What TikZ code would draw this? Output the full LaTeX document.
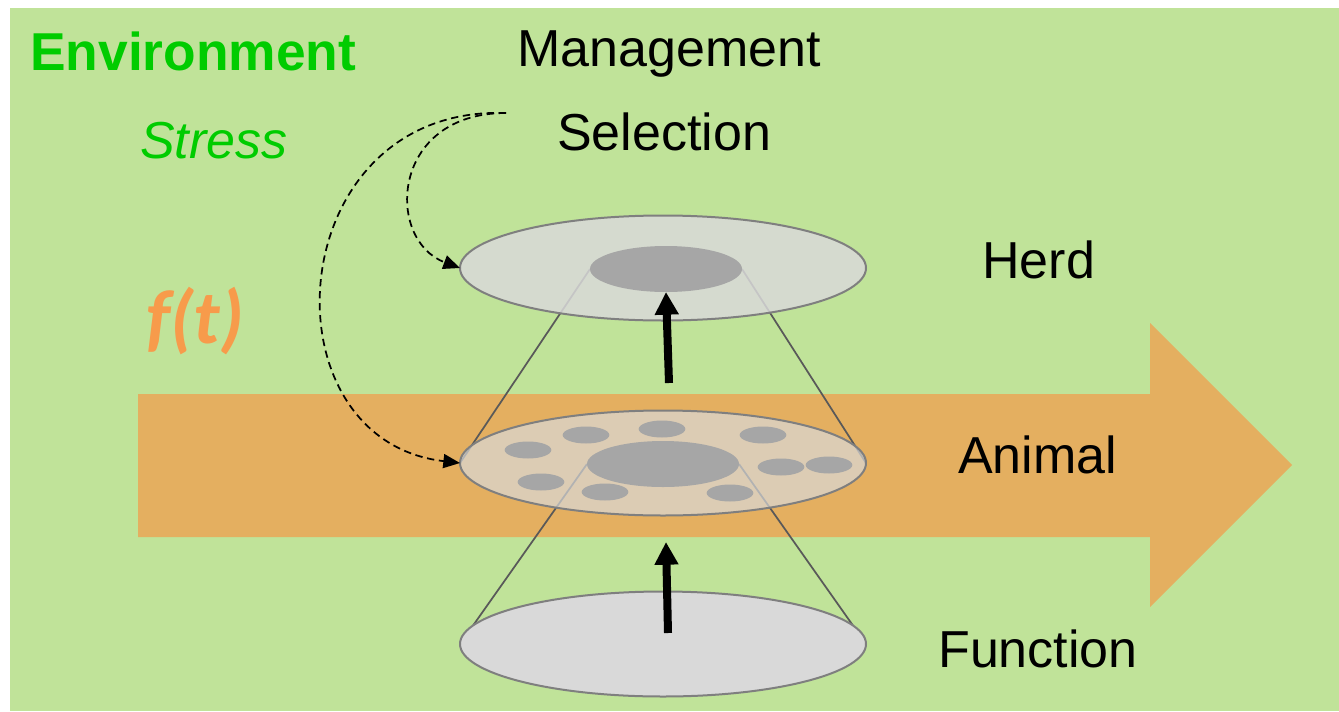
\documentclass[tikz,border=0pt]{standalone}
\usepackage{fontspec}
\setmainfont{Liberation Sans}
\newfontfamily\calfont{Carlito}
\usetikzlibrary{shapes.geometric, arrows.meta}
\definecolor{bggreen}{HTML}{C0E399}
\definecolor{flowor}{HTML}{E4AF60}
\definecolor{envgreen}{HTML}{00CC00}
\definecolor{ftorange}{HTML}{F79B4B}
\definecolor{disk}{HTML}{D9D9D9}
\definecolor{core}{HTML}{A6A6A6}
\definecolor{rim}{HTML}{7F7F7F}
\definecolor{cone}{HTML}{595959}
\tikzstyle{level} = [ellipse,
minimum width=304.5pt, minimum height=78.75pt,
inner sep=0pt, outer sep=0pt,
draw=rim, line width=1.5pt, fill=disk]
\tikzstyle{kernel} = [ellipse,
minimum width=114pt, minimum height=34.5pt,
inner sep=0pt, outer sep=0pt,
fill=core]
\tikzstyle{cell} = [ellipse,
minimum width=35pt, minimum height=12.75pt,
inner sep=0pt, fill=core]
\tikzstyle{caption} = [anchor=base west, inner sep=0pt,
font=\fontsize{39}{47}\selectfont]
\tikzstyle{coneline} = [draw=cone, line width=1.3pt]
\tikzstyle{uparrow} = [line width=6pt, -{Triangle[width=17pt, length=17pt]}]
\tikzstyle{influence} = [line width=1.3pt, dash pattern=on 5.5pt off 3.5pt,
-{Triangle[width=10.5pt, length=12.5pt]}]

\begin{document}
\begin{tikzpicture}[x=0.75pt, y=-0.75pt]
                \useasboundingbox (0,0) rectangle (1339,711);
                \fill [bggreen] (10,8) rectangle (1339,711);

                % time flow
                \fill [flowor] (138,394) -- (1150,394) -- (1150,323) -- (1292,465)
                    -- (1150,607) -- (1150,537) -- (138,537) -- cycle;

                \node (env) [caption, text=envgreen, font=\fontsize{40}{48}\selectfont\bfseries] at (30,70) {Environment};
                \node (stress) [caption, text=envgreen, font=\fontsize{39}{47}\selectfont\itshape] at (140,158) {Stress};
                \node (ft) [anchor=base west, inner sep=0pt, text=ftorange, font=\calfont\fontsize{57}{60}\selectfont\bfseries\itshape] at (146,343) {f(t)};
                \node (mgmt) [caption] at (517,66) {Management};
                \node (sel) [caption] at (557,150) {Selection};
                \node (herdlbl) [caption] at (982,278) {Herd};
                \node (animallbl) [caption] at (958,473) {Animal};
                \node (funclbl) [caption] at (938,667) {Function};

                % invisible anchors for the cone
                \node (herdcore) [kernel, fill=none] at (666,269) {};
                \node (animalcore) [kernel, fill=none] at (663,464) {};
                \node (func) [level, draw=none, fill=none] at (663,644) {};
                \node (animal) [level, draw=none, fill=none] at (663,463) {};

                \draw [coneline] (herdcore.west) -- (animal.west);
                \draw [coneline] (herdcore.east) -- (animal.east);
                \draw [coneline] (animalcore.west) -- (func.west);
                \draw [coneline] (animalcore.east) -- (func.east);

                \node (herd) [level, fill opacity=0.85] at (663,268) {};
                \node [level, fill opacity=0.7] at (663,463) {};
                \node [level] at (663,644) {};
                \node [kernel] at (666,269) {};
                \node [kernel] at (663,464) {};

                \foreach \cx/\cy in {528/450, 586/435, 662/429, 763/435, 781/467,
                    829/465, 541/482, 605/492, 730/493}
                    \node [cell] at (\cx,\cy) {};

                \coordinate (src) at (506,113);
                \coordinate (herdfoot) at (669,383);
                \coordinate (animalfoot) at (666,542);
                \coordinate (funcstem) at (668,633);

                \draw [uparrow] (herdfoot) -- (herdcore.south);
                \draw [uparrow] (funcstem) -- (animalfoot);

                \draw [influence] (src) .. controls (390,113) and (385,240) .. (herd.west);
                \draw [influence] (src) .. controls (280,105) and (260,440) .. (animal.west);
            \end{tikzpicture}
\end{document}
